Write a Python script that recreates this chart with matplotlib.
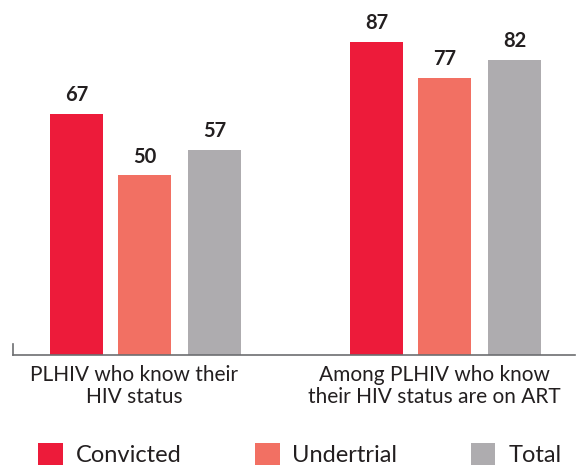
import numpy as np
import matplotlib
matplotlib.use("Agg")
import matplotlib.pyplot as plt
import matplotlib.transforms as mtransforms
from matplotlib.patches import Patch

# data
categories = ["PLHIV who know their\nHIV status", "Among PLHIV who know\ntheir HIV status are on ART"]
series = ["Convicted", "Undertrial", "Total"]
convicted = [67, 87]
undertrial = [50, 77]
total = [57, 82]

colors = ["#ED1B3A", "#F27063", "#AEACAF"]
text_color = "#231F20"

plt.rcParams['font.family'] = ['Lato', 'DejaVu Sans']

fig = plt.figure(figsize=(5.76, 4.67), dpi=100)
ax = fig.add_axes([13 / 576, 112 / 467, 562 / 576, 355 / 467])

x = np.arange(len(categories))
width = 0.177
offsets = [-0.227, 0.0, 0.233]

for vals, off, col in zip([convicted, undertrial, total], offsets, colors):
    bars = ax.bar(x + off, vals, width, color=col)
    for b, v in zip(bars, vals):
        ax.annotate(str(v), (b.get_x() + b.get_width() / 2, v), xytext=(0, 6),
                    textcoords="offset points", ha="center", va="bottom",
                    fontsize=14.5, fontweight="bold", color=text_color)

ax.set_xlim(-0.438, 1.435)
ax.set_ylim(0, 355 / 3.6)

for s in ["top", "right"]:
    ax.spines[s].set_visible(False)
ax.spines["left"].set_bounds(0, 3)
ax.spines["left"].set_color("#6D6E71")
ax.spines["bottom"].set_color("#6D6E71")
ax.spines["left"].set_linewidth(1.2)
ax.spines["bottom"].set_linewidth(1.2)
ax.set_yticks([])
ax.set_xticks(x)
ax.set_xticklabels(categories, fontsize=15, color=text_color, linespacing=1.15)
ax.tick_params(axis="x", length=0, pad=7)
# labels sit a little left of the group centres in the original
shift = mtransforms.ScaledTranslation(-10 / 100, 0, fig.dpi_scale_trans)
for lbl in ax.get_xticklabels():
    lbl.set_transform(lbl.get_transform() + shift)

handles = [Patch(facecolor=c) for c in colors]
fig.legend(handles, series, loc="lower left", bbox_to_anchor=(38 / 576, 1 / 467),
           ncol=3, frameon=False, fontsize=17, handlelength=1.05, handleheight=1.05,
           handletextpad=0.55, columnspacing=3.1, borderpad=0, borderaxespad=0,
           labelcolor=text_color)

fig.savefig("out.png", dpi=100)
